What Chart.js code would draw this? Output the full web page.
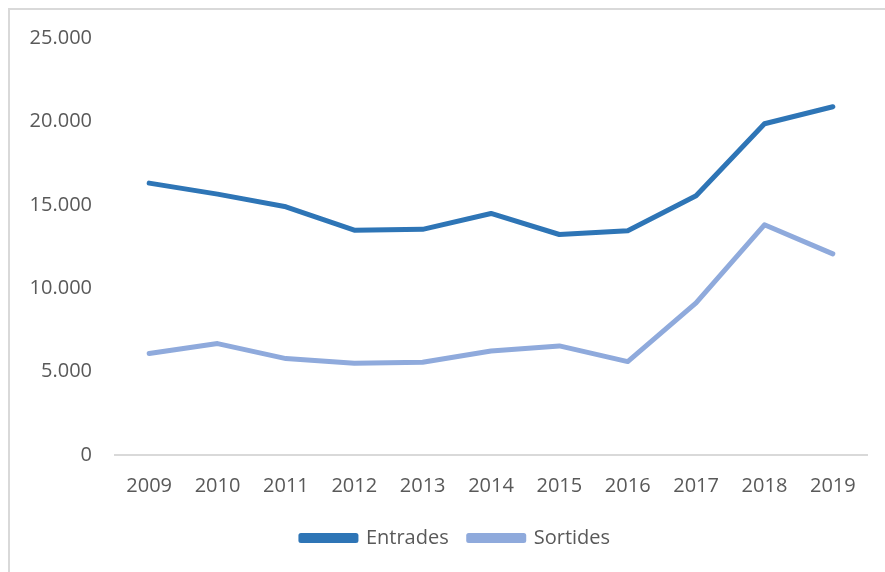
<!DOCTYPE html>
<html>
<head>
<meta charset="utf-8">
<script src="https://cdn.jsdelivr.net/npm/chart.js@4"></script>
<style>
  html, body { margin: 0; padding: 0; background: #fff; }
  #wrap { position: relative; width: 885px; height: 572px; overflow: hidden; }
  #frame { position: absolute; left: 8px; top: 8px; width: 1000px; height: 1000px;
           border-left: 2px solid #d9d9d9; border-top: 2px solid #d9d9d9; }
  #chart { position: absolute; left: 0; top: 0; }
</style>
</head>
<body>
<div id="wrap">
  <div id="frame"></div>
  <canvas id="chart" width="885" height="572"></canvas>
</div>
<script>
// dades
const years = ["2009", "2010", "2011", "2012", "2013", "2014", "2015", "2016", "2017", "2018", "2019"];
const entrades = [16300, 15640, 14880, 13480, 13530, 14480, 13220, 13440, 15540, 19860, 20880];
const sortides = [6080, 6680, 5780, 5500, 5560, 6240, 6540, 5600, 9120, 13800, 12060];
const yTicks = [0, 5000, 10000, 15000, 20000, 25000];

const txtColor = "#595959";
const fontFamily = "'Open Sans', 'Noto Sans', sans-serif";

// format 5.000
const fmt = v => String(v).replace(/\B(?=(\d{3})+(?!\d))/g, ".");

// la llegenda queda centrada sobre el marc, no sobre l'àrea del gràfic
const legendShift = {
  id: "legendShift",
  afterLayout(chart) {
    chart.legend.left += 12;
    chart.legend.right += 12;
  }
};

new Chart(document.getElementById("chart"), {
  type: "line",
  data: {
    labels: years,
    datasets: [
      {
        label: "Entrades",
        data: entrades,
        borderColor: "#2e75b6",
        backgroundColor: "#2e75b6",
        borderWidth: 5,
        pointRadius: 0,
        borderCapStyle: "round",
        borderJoinStyle: "round",
        tension: 0
      },
      {
        label: "Sortides",
        data: sortides,
        borderColor: "#8faadc",
        backgroundColor: "#8faadc",
        borderWidth: 5,
        pointRadius: 0,
        borderCapStyle: "round",
        borderJoinStyle: "round",
        tension: 0
      }
    ]
  },
  plugins: [legendShift],
  options: {
    responsive: false,
    animation: false,
    layout: { padding: { left: 20, right: 18, top: 38, bottom: 14 } },
    scales: {
      x: {
        offset: true,
        grid: { display: false, drawTicks: false },
        border: { display: true, color: "#d9d9d9", width: 2 },
        afterFit: s => { s.height -= 9; },
        ticks: { color: txtColor, font: { family: fontFamily, size: 20 }, padding: 19, maxRotation: 0 }
      },
      y: {
        min: 0,
        max: 25000,
        afterBuildTicks: s => { s.ticks = yTicks.map(v => ({ value: v })); },
        afterFit: s => { s.width = 95; },
        grid: { display: false, drawTicks: false },
        border: { display: false },
        ticks: {
          color: txtColor,
          font: { family: fontFamily, size: 20 },
          padding: 23,
          callback: v => fmt(v)
        }
      }
    },
    plugins: {
      legend: {
        position: "bottom",
        labels: {
          color: txtColor,
          font: { family: fontFamily, size: 20 },
          boxWidth: 55,
          boxHeight: 5,
          padding: 20
        }
      },
      tooltip: { enabled: false }
    }
  }
});
</script>
</body>
</html>
